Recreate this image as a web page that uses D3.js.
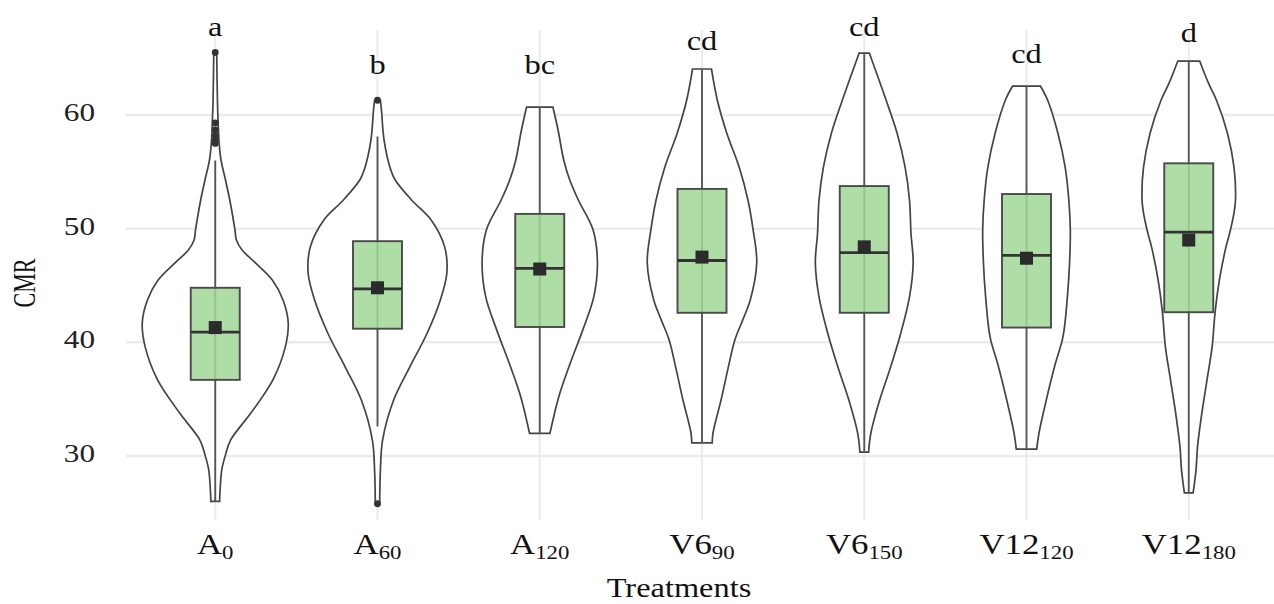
<!DOCTYPE html>
<html>
<head>
<meta charset="utf-8">
<script src="https://cdn.jsdelivr.net/npm/d3@7"></script>
<style>
  body { margin: 0; background: #fff; }
  svg { display: block; }
</style>
</head>
<body>
<script>
// treatments and their tick labels (main part + subscript)
var treatments = ["A0", "A60", "A120", "V6_90", "V6_150", "V12_120", "V12_180"];
var labelMain = ["A", "A", "A", "V6", "V6", "V12", "V12"];
var labelSub = ["0", "60", "120", "90", "150", "120", "180"];

// significance letters and the CMR value they sit at
var letters = ["a", "b", "bc", "cd", "cd", "cd", "d"];
var letterAt = [66.95, 63.6, 63.6, 65.7, 66.95, 64.6, 66.4];

// box plot stats
var whiskerLow = [26.0, 32.6, 32.0, 31.15, 30.35, 30.6, 26.75];
var q1 = [36.7, 41.2, 41.35, 42.6, 42.6, 41.3, 42.65];
var median = [40.9, 44.7, 46.5, 47.2, 47.9, 47.65, 49.7];
var q3 = [44.8, 48.9, 51.3, 53.5, 53.75, 53.05, 55.75];
var whiskerHigh = [56.0, 58.1, 60.7, 64.05, 65.45, 62.55, 64.75];
var means = [41.3, 44.8, 46.45, 47.5, 48.4, 47.4, 49.0];
var outliers = [[65.5, 59.3, 58.7, 58.2, 57.8, 57.5], [61.3, 25.8], [], [], [], [], []];

// violin outlines: [CMR, relative density]
var violinA0 = [[65.5,0.02],[61.3,0.03],[59.3,0.04],[57.4,0.055],[56.0,0.08],[54.3,0.14],[52.5,0.2],[49.9,0.27],[49.0,0.29],[48.1,0.37],[47.0,0.55],[45.5,0.78],[43.7,0.93],[41.7,1.0],[39.6,0.96],[36.7,0.79],[33.8,0.49],[31.4,0.21],[30.1,0.14],[28.8,0.09],[27.4,0.07],[26.0,0.06]];
var violinA60 = [[61.3,0.04],[60.4,0.055],[57.8,0.09],[55.2,0.18],[54.3,0.24],[52.5,0.47],[50.8,0.73],[48.4,0.92],[46.1,0.95],[43.7,0.86],[40.8,0.68],[37.8,0.44],[34.9,0.22],[31.4,0.07],[28.8,0.04],[25.8,0.03]];
var violinA120 = [[60.7,0.18],[58.7,0.25],[56.0,0.33],[54.3,0.41],[52.5,0.53],[49.9,0.73],[47.0,0.79],[44.0,0.74],[41.1,0.59],[38.2,0.42],[35.2,0.26],[32.0,0.14]];
var violinV690 = [[64.05,0.13],[61.3,0.21],[58.4,0.34],[55.4,0.51],[52.5,0.63],[49.9,0.7],[47.0,0.75],[43.7,0.66],[42.0,0.56],[40.2,0.45],[37.8,0.36],[34.9,0.26],[32.0,0.15],[31.15,0.14]];
var violinV6150 = [[65.45,0.07],[64.2,0.14],[61.3,0.3],[58.4,0.45],[55.4,0.56],[52.5,0.62],[49.6,0.64],[47.0,0.67],[44.0,0.62],[40.8,0.5],[37.8,0.36],[34.9,0.21],[32.0,0.09],[30.35,0.06]];
var violinV12120 = [[62.55,0.19],[61.3,0.29],[58.4,0.43],[55.4,0.53],[52.5,0.58],[49.9,0.6],[47.0,0.59],[44.0,0.56],[40.5,0.5],[38.0,0.39],[34.9,0.27],[32.0,0.17],[30.6,0.14]];
var violinV12180 = [[64.75,0.15],[62.8,0.27],[61.3,0.38],[58.4,0.53],[55.4,0.62],[52.5,0.64],[51.4,0.62],[49.6,0.56],[48.4,0.51],[45.5,0.42],[42.6,0.36],[39.6,0.32],[36.7,0.25],[33.8,0.18],[30.8,0.12],[28.8,0.1],[26.75,0.06]];
var violins = [violinA0, violinA60, violinA120, violinV690, violinV6150, violinV12120, violinV12180];

var yTicks = [30, 40, 50, 60];

var width = 1274, height = 604;
var serif = "'Liberation Serif', 'Times New Roman', serif";
var stretch = 1.2; // glyphs in the figure are wider than normal

var svg = d3.select("body").append("svg")
    .attr("width", width)
    .attr("height", height);

var x = d3.scalePoint()
    .domain(treatments)
    .range([126, 1278])
    .padding(0.55);

var y = d3.scaleLinear()
    .domain([24.37, 67.48])
    .range([520, 30]);

var w = d3.scaleLinear()
    .domain([0, 1])
    .range([0, 73]);

// grid
svg.append("g").selectAll("line")
    .data(yTicks)
    .enter().append("line")
    .attr("x1", 126).attr("x2", width)
    .attr("y1", d => y(d)).attr("y2", d => y(d))
    .style("stroke", "#ebebeb")
    .style("stroke-width", "2.5px");

svg.append("g").selectAll("line")
    .data(treatments)
    .enter().append("line")
    .attr("x1", d => x(d)).attr("x2", d => x(d))
    .attr("y1", y.range()[1]).attr("y2", y.range()[0])
    .style("stroke", "#ebebeb")
    .style("stroke-width", "2px");

// violins
var area = d3.area()
    .y(d => y(d[0]))
    .curve(d3.curveCatmullRom);

svg.append("g").selectAll("path")
    .data(violins)
    .enter().append("path")
    .attr("d", (v, i) => {
        var cx = x(treatments[i]);
        return area.x0(d => cx - w(d[1])).x1(d => cx + w(d[1]))(v);
    })
    .style("fill", "#fff")
    .style("stroke", "#444")
    .style("stroke-width", "1.7px");

// boxes
var boxW = 49;
var box = svg.append("g").selectAll("g")
    .data(treatments)
    .enter().append("g");

box.append("line")
    .attr("x1", d => x(d)).attr("x2", d => x(d))
    .attr("y1", (d, i) => y(whiskerHigh[i]))
    .attr("y2", (d, i) => y(whiskerLow[i]))
    .style("stroke", "#555")
    .style("stroke-width", "1.9px");

box.append("rect")
    .attr("x", d => x(d) - boxW / 2)
    .attr("width", boxW)
    .attr("y", (d, i) => y(q3[i]))
    .attr("height", (d, i) => y(q1[i]) - y(q3[i]))
    .style("fill", "#a0d896")
    .style("fill-opacity", 0.85)
    .style("stroke", "#4a4a4a")
    .style("stroke-width", "1.9px");

box.append("line")
    .attr("x1", d => x(d) - boxW / 2).attr("x2", d => x(d) + boxW / 2)
    .attr("y1", (d, i) => y(median[i]))
    .attr("y2", (d, i) => y(median[i]))
    .style("stroke", "#333")
    .style("stroke-width", "2.8px");

box.append("rect")
    .attr("x", d => x(d) - 6.5)
    .attr("y", (d, i) => y(means[i]) - 6.5)
    .attr("width", 13).attr("height", 13)
    .style("fill", "#2b2b2b");

box.selectAll("circle")
    .data((d, i) => outliers[i].map(v => [d, v]))
    .enter().append("circle")
    .attr("cx", d => x(d[0]))
    .attr("cy", d => y(d[1]))
    .attr("r", 3.4)
    .style("fill", "#333");

// letters
svg.append("g").selectAll("text")
    .data(treatments)
    .enter().append("text")
    .attr("transform", (d, i) => "translate(" + x(d) + "," + y(letterAt[i]) + ") scale(" + stretch + ",1)")
    .attr("text-anchor", "middle")
    .style("font-family", serif)
    .style("font-size", "27px")
    .style("fill", "#111")
    .text((d, i) => letters[i]);

// y axis tick labels
svg.append("g").selectAll("text")
    .data(yTicks)
    .enter().append("text")
    .attr("transform", d => "translate(95," + (y(d) + 6) + ") scale(" + stretch + ",1)")
    .attr("text-anchor", "end")
    .style("font-family", serif)
    .style("font-size", "26px")
    .style("fill", "#222")
    .text(d => d);

// x axis tick labels with subscripts
var xl = svg.append("g").selectAll("text")
    .data(treatments)
    .enter().append("text")
    .attr("transform", d => "translate(" + x(d) + ",554) scale(" + stretch + ",1)")
    .attr("text-anchor", "middle")
    .style("font-family", serif)
    .style("font-size", "29px")
    .style("fill", "#111");
xl.append("tspan").text((d, i) => labelMain[i]);
xl.append("tspan")
    .attr("dy", 5)
    .style("font-size", "19px")
    .text((d, i) => labelSub[i]);

// axis titles
svg.append("text")
    .attr("transform", "translate(679,597) scale(" + stretch + ",1)")
    .attr("text-anchor", "middle")
    .style("font-family", serif)
    .style("font-size", "27px")
    .style("fill", "#111")
    .text("Treatments");

svg.append("text")
    .attr("transform", "translate(35,283) rotate(-90) scale(1,1.45)")
    .attr("text-anchor", "middle")
    .style("font-family", serif)
    .style("font-size", "22px")
    .style("fill", "#111")
    .text("CMR");
</script>
</body>
</html>
